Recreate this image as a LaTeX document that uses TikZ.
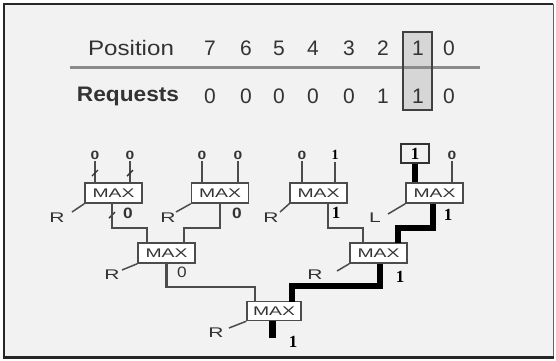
\documentclass[tikz,border=0pt]{standalone}
\usepackage{fontspec}
\usepackage{graphicx}
\setmainfont{Liberation Sans}
\newfontfamily\serifbold{Liberation Serif}[BoldFont={Liberation Serif Bold}]
\newcommand{\maxlbl}{\scalebox{1.55}[1]{MAX}}
\begin{document}
\begin{tikzpicture}[x=1pt,y=-1pt,
  maxbox/.style={draw=black!70,fill=white,line width=1.5pt,minimum width=57pt,minimum height=20pt,inner sep=0pt,
    font=\fontsize{12.5}{12.5}\selectfont,text=black!80},
  wire/.style={draw=black!70,line width=2.2pt},
  hot/.style={draw=black,line width=6.5pt,line join=miter},
  tbl/.style={font=\fontsize{21}{21}\selectfont,text=black!80,inner sep=0pt},
  inlbl/.style={font=\fontsize{12}{12}\selectfont\bfseries,text=black!80,inner sep=0pt},
  outz/.style={font=\fontsize{15}{15}\selectfont\bfseries,text=black!80,inner sep=0pt},
  outone/.style={font=\fontsize{17}{17}\selectfont\serifbold\bfseries,inner sep=0pt},
  rlbl/.style={font=\fontsize{14}{14}\selectfont,text=black!80,inner sep=0pt},
  rline/.style={draw=black!70,line width=1.5pt},
  slash/.style={draw=black!80,line width=1.4pt}]
\useasboundingbox (0,0) rectangle (556,360);
\fill[white] (0,0) rectangle (556,360);
\fill[black!5] (4,4) rectangle (553,357);
\draw[black!85,line width=2pt] (4,357) -- (4,4) -- (553,4);
\draw[black!60,line width=1pt] (553,4) -- (553,357);
\draw[black!85,line width=3pt] (3,357) -- (554,357);
% table
\fill[black!16] (403,32) rectangle (432,110);
\draw[black!45,line width=3pt] (70,67) -- (480,67);
\draw[black!75,line width=1.5pt] (403,32) rectangle (432,110);
\node[tbl] (pos) at (131,48) {\scalebox{1.15}[1]{Position}};
\node[tbl,font=\fontsize{21}{21}\selectfont\bfseries] (req) at (128,96) {\scalebox{1.08}[1]{Requests}};
\foreach \n/\x in {7/210,6/246,5/279,4/313,3/349,2/383,1/418,0/449}{
  \node[tbl] (p\n) at (\x,48) {\n};
}
\foreach \n/\x/\v in {7/210/0,6/246/0,5/279/0,4/313/0,3/349/0,2/383/1,1/418/1,0/449/0}{
  \node[tbl] (r\n) at (\x,96) {\v};
}
% MAX boxes
\node[maxbox] (a1) at (113.5,193) {\maxlbl};
\node[maxbox] (a2) at (220,193) {\maxlbl};
\node[maxbox] (a3) at (318.5,193) {\maxlbl};
\node[maxbox] (a4) at (434.5,193) {\maxlbl};
\node[maxbox] (b1) at (166.5,253) {\maxlbl};
\node[maxbox] (b2) at (378.5,253) {\maxlbl};
\node[maxbox,minimum width=54pt,minimum height=19pt] (c1) at (274,311) {\maxlbl};
% inputs
\node[inlbl] (t1) at (95,155) {\scalebox{1.3}[1]{0}};
\node[inlbl] (t2) at (130,155) {\scalebox{1.3}[1]{0}};
\node[inlbl] (t3) at (202,155) {\scalebox{1.3}[1]{0}};
\node[inlbl] (t4) at (238,155) {\scalebox{1.3}[1]{0}};
\node[inlbl] (t5) at (302,155) {\scalebox{1.3}[1]{0}};
\node[outone,font=\fontsize{14}{14}\selectfont\serifbold\bfseries] (t6) at (335,155) {1};
\node[outone,draw=black!80,line width=1.5pt,minimum width=28pt,minimum height=19pt] (t7) at (415,153.5) {1};
\node[inlbl] (t8) at (452,155) {\scalebox{1.3}[1]{0}};
\foreach \t/\b in {t1/a1,t2/a1,t3/a2,t4/a2,t5/a3,t6/a3,t8/a4}{
  \draw[wire] ([yshift=-2pt]\t.south) -- (\t.south |- \b.north);
}
\draw[hot] (t7.south) -- (t7.south |- a4.north);
% slash marks on first box
\draw[slash] (92,176) -- (98,170);
\draw[slash] (127,176) -- (133,170);
\draw[slash] (109,218) -- (115,212);
% input points of lower boxes
\coordinate (b1l) at (147,243);
\coordinate (b1r) at (184,243);
\coordinate (b2l) at (363,243);
\coordinate (b2r) at (398,243);
\coordinate (c1l) at (255,302);
\coordinate (c1r) at (292,302);
% connectors level 1 -> 2
\draw[wire] ([xshift=-1.5pt]a1.south) -- ++(0,24) -| (b1l);
\draw[wire] (a2.south) -- ++(0,24) -| (b1r);
\draw[wire] ([xshift=9.5pt]a3.south) -- ++(0,24) -| (b2l);
\draw[hot] ([xshift=-1.5pt]a4.south) -- ++(0,24) -| (b2r);
% level 2 -> 3
\draw[wire] (b1.south) -- ++(0,23) -| (c1l);
\draw[hot] ([xshift=1.5pt]b2.south) -- ++(0,22) -| (c1r);
% final output
\coordinate (fout) at (272.5,338);
\draw[hot] (c1.south -| fout) -- (fout);
% output labels
\node[outz] (o1) at (128,213) {\scalebox{1.15}[1]{0}};
\node[outz] (o2) at (237,213) {\scalebox{1.15}[1]{0}};
\node[outone] (o3) at (336,213) {1};
\node[outone] (o4) at (448,215) {1};
\node[outz,font=\fontsize{15}{15}\selectfont] (o5) at (182,272) {\scalebox{1.15}[1]{0}};
\node[outone] (o6) at (400,277) {1};
\node[outone] (o7) at (293,342) {1};
% R / L labels
\node[rlbl] (ra1) at (57,218) {\scalebox{1.5}[1]{R}};
\node[rlbl] (ra2) at (168,218) {\scalebox{1.5}[1]{R}};
\node[rlbl] (ra3) at (271,218) {\scalebox{1.5}[1]{R}};
\node[rlbl] (la4) at (375,218) {\scalebox{1.5}[1]{L}};
\node[rlbl] (rb1) at (112,275) {\scalebox{1.5}[1]{R}};
\node[rlbl] (rb2) at (315,275) {\scalebox{1.5}[1]{R}};
\node[rlbl] (rc1) at (216,333) {\scalebox{1.5}[1]{R}};
\draw[rline] (a1.south west) -- (72,212);
\draw[rline] (a2.south west) -- (176,212);
\draw[rline] (a3.south west) -- (280,212);
\draw[rline] (a4.south west) -- (388,214);
\draw[rline] (b1.south west) -- (122,270);
\draw[rline] (b2.south west) -- (337,271);
\draw[rline] (c1.south west) -- (229,328);
\end{tikzpicture}
\end{document}
